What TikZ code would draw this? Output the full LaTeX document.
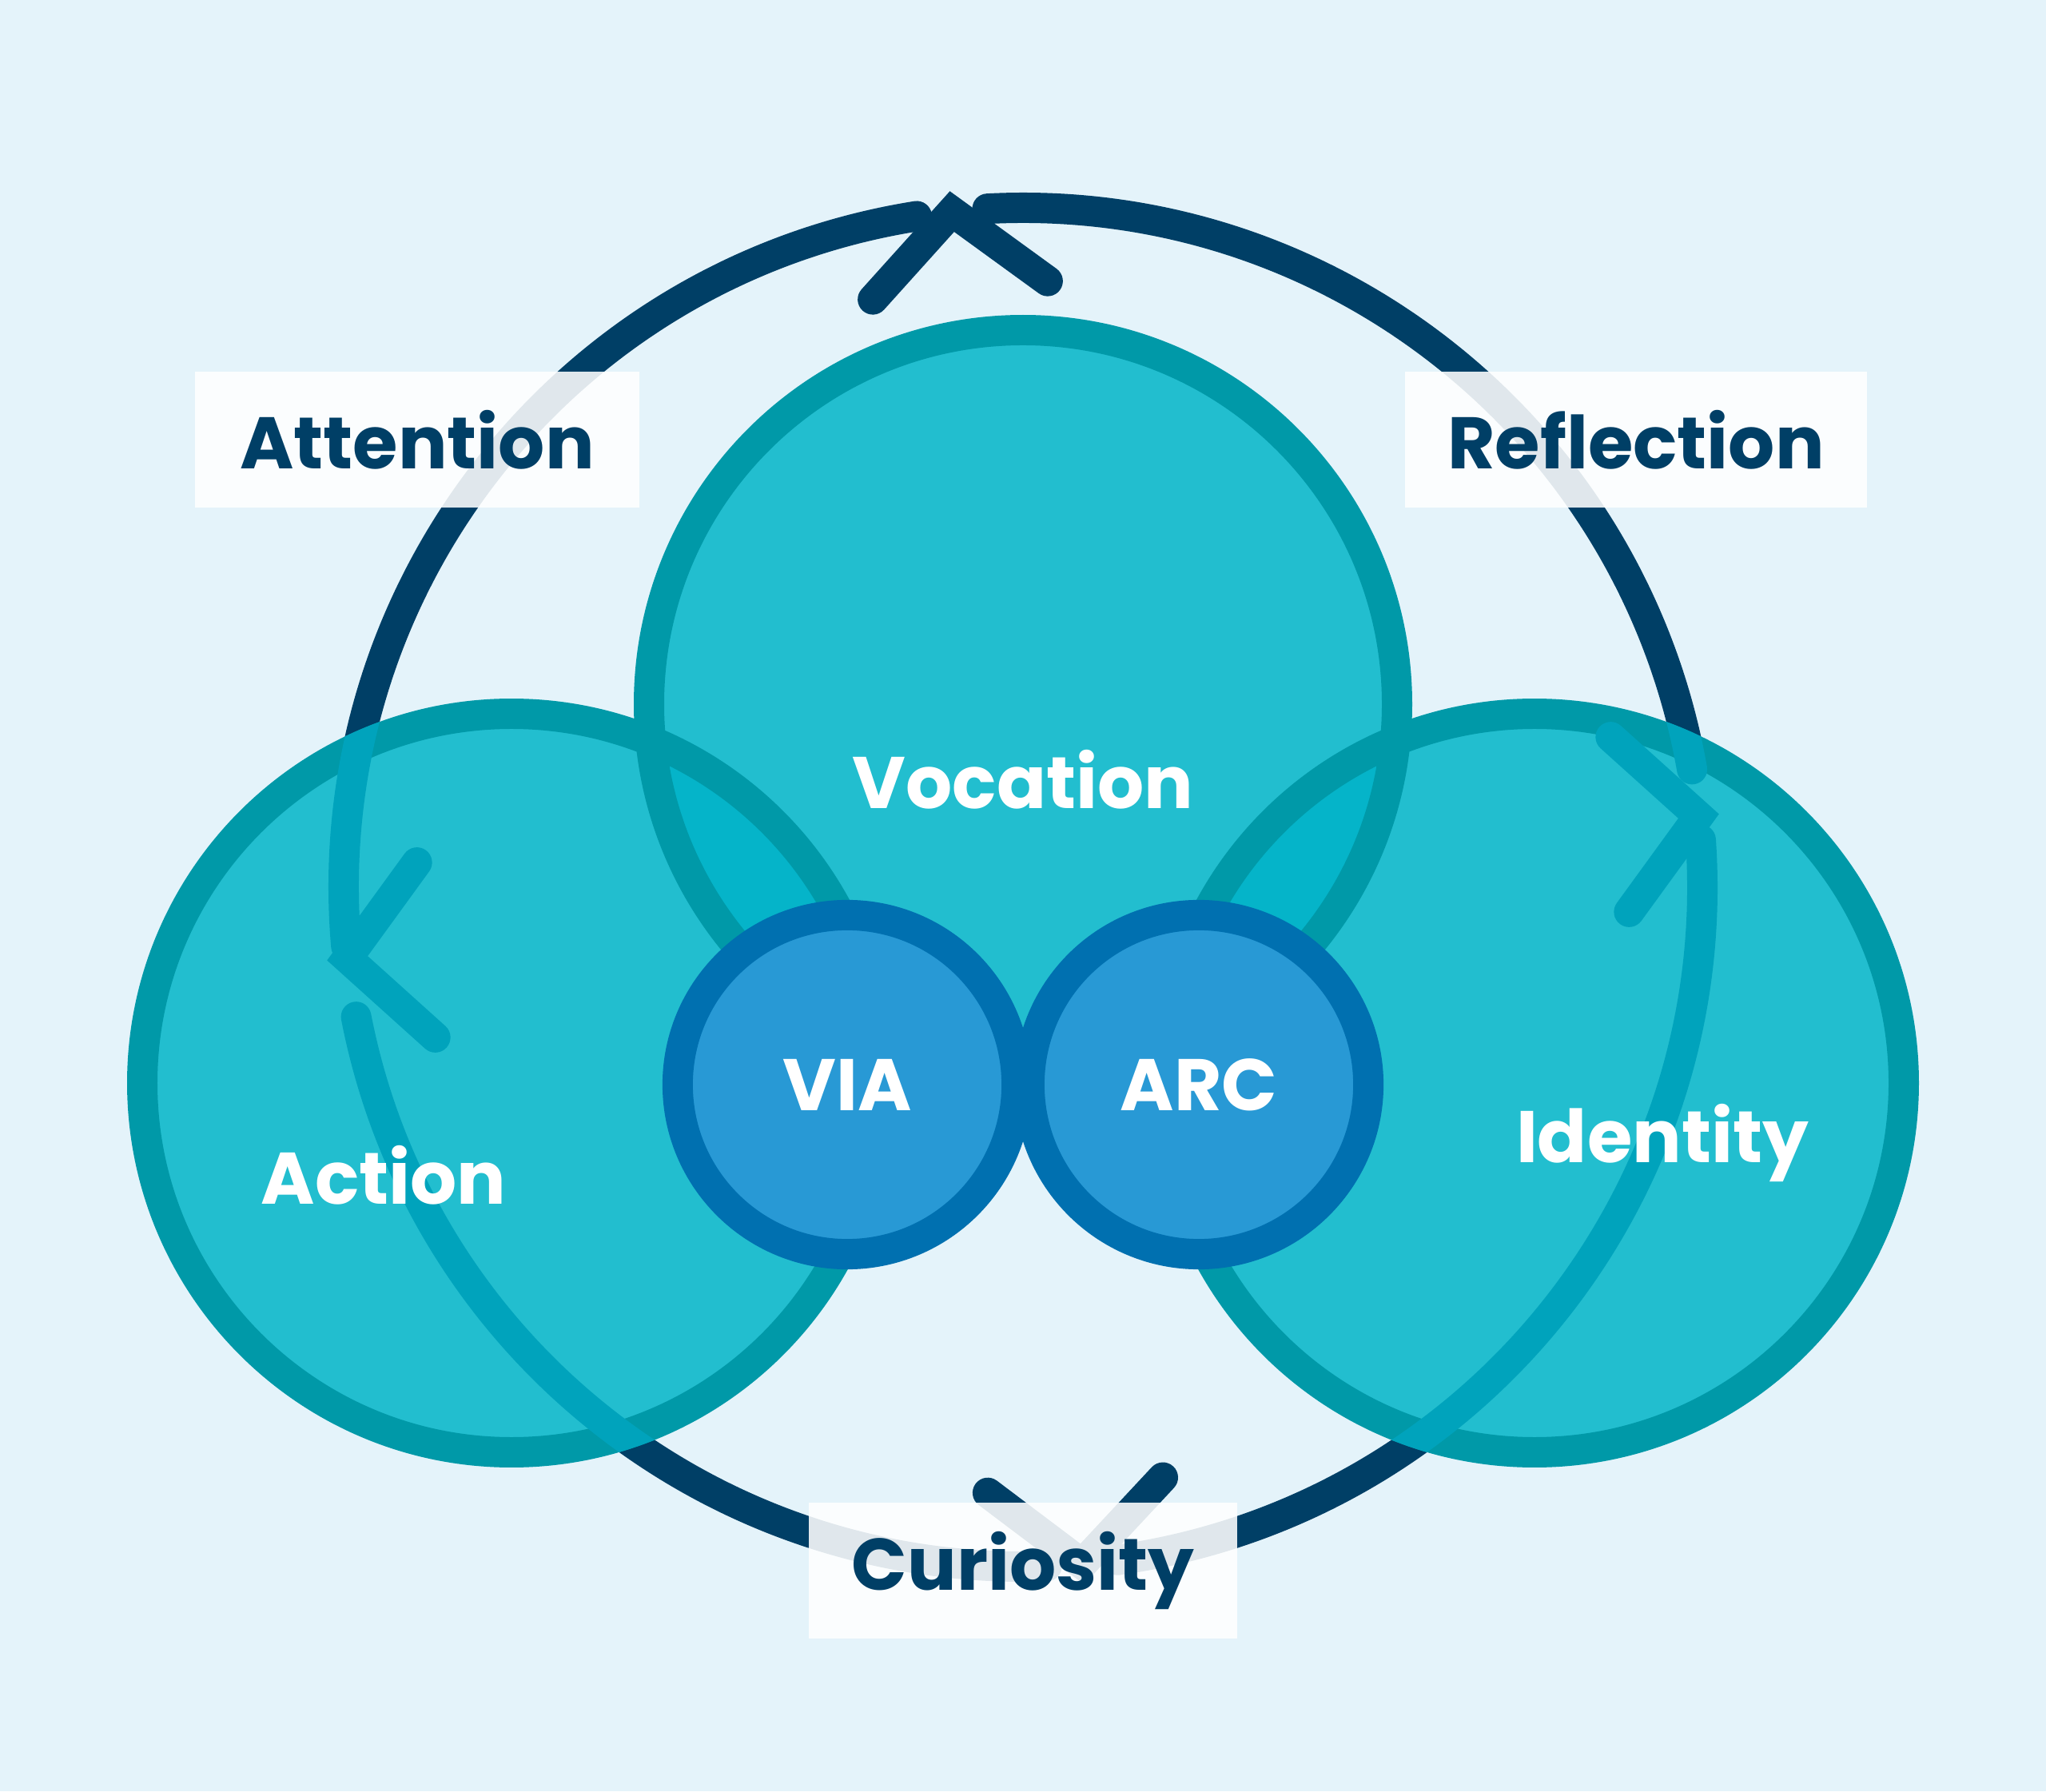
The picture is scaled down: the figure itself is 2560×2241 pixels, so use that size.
\documentclass[tikz,border=0pt]{standalone}
\usepackage{fontspec}
\setmainfont{Poppins}
\definecolor{bgblue}{HTML}{E4F3FA}
\definecolor{navy}{HTML}{003F66}
\definecolor{tealfill}{HTML}{22BECF}
\definecolor{tealline}{HTML}{0099A8}
\definecolor{tealdark}{HTML}{05B4C9}
\definecolor{arcteal}{HTML}{00A3BC}
\definecolor{smallfill}{HTML}{2899D5}
\definecolor{smallline}{HTML}{0070B0}
\tikzset{
  ring/.style={line width=10.8pt, line cap=round, line join=miter},
  smallcircle/.style={fill=smallfill, draw=smallline, line width=10.8pt},
  inlabel/.style={text=white, font=\bfseries\fontsize{26}{30}\selectfont},
  boxlabel/.style={fill=white, fill opacity=0.88, text opacity=1, text=navy,
    font=\bfseries\fontsize{26}{30}\selectfont, minimum width=#1, minimum height=1.7cm},
}
% cycle of arcs with chevrons
\newcommand\cyclearcs{%
  \draw[ring] (R) ++(99:850) arc (99:185:850);
  \draw[ring] (R) ++(191:850) arc (191:272:850);
  \draw[ring] (R) ++(278:850) arc (278:364:850);
  \draw[ring] (R) ++(10:850) arc (10:93:850);
  \foreach \t in {96,186,275,6}
    \draw[ring] (R) ++(\t:850) coordinate (tip) ++(\t+228:148) -- (tip) -- ++(\t+132:148);
}
\begin{document}
\begin{tikzpicture}[x=0.01cm, y=0.01cm]
  \useasboundingbox (0,0) rectangle (2560,2241);
  \fill[bgblue] (0,0) rectangle (2560,2241);
  \coordinate (R) at (1280,1131);
  \coordinate (voc) at (1280,1360);
  \coordinate (act) at (640,886);
  \coordinate (idn) at (1920,886);
  % navy cycle
  \begin{scope}[draw=navy]
    \cyclearcs
  \end{scope}
  % big circles
  \fill[tealfill] (voc) circle (468) (act) circle (462) (idn) circle (462);
  \begin{scope}
    \clip (voc) circle (468);
    \fill[tealdark] (act) circle (462) (idn) circle (462);
  \end{scope}
  \draw[tealline, line width=10.8pt] (voc) circle (468) (act) circle (462) (idn) circle (462);
  % cycle inside circles
  \begin{scope}
    \clip (voc) circle (487) (act) circle (481) (idn) circle (481);
    \begin{scope}[draw=arcteal]
      \cyclearcs
    \end{scope}
  \end{scope}
  % small circles
  \node[circle, smallcircle, minimum size=4.24cm] (via) at (1060,884) {};
  \node[circle, smallcircle, minimum size=4.24cm] (arc) at (1500,884) {};
  % labels
  \node[inlabel] (vocation) at (1280,1266) {Vocation};
  \node[inlabel] (action) at (480,771) {Action};
  \node[inlabel] (identity) at (2080,811) {Identity};
  \node[inlabel] at (via) {VIA};
  \node[inlabel] at (arc) {ARC};
  \node[boxlabel=5.55cm] (attention) at (522,1691) {Attention};
  \node[boxlabel=5.77cm] (reflection) at (2047,1691) {Reflection};
  \node[boxlabel=5.36cm] (curiosity) at (1280,276) {Curiosity};
\end{tikzpicture}
\end{document}
